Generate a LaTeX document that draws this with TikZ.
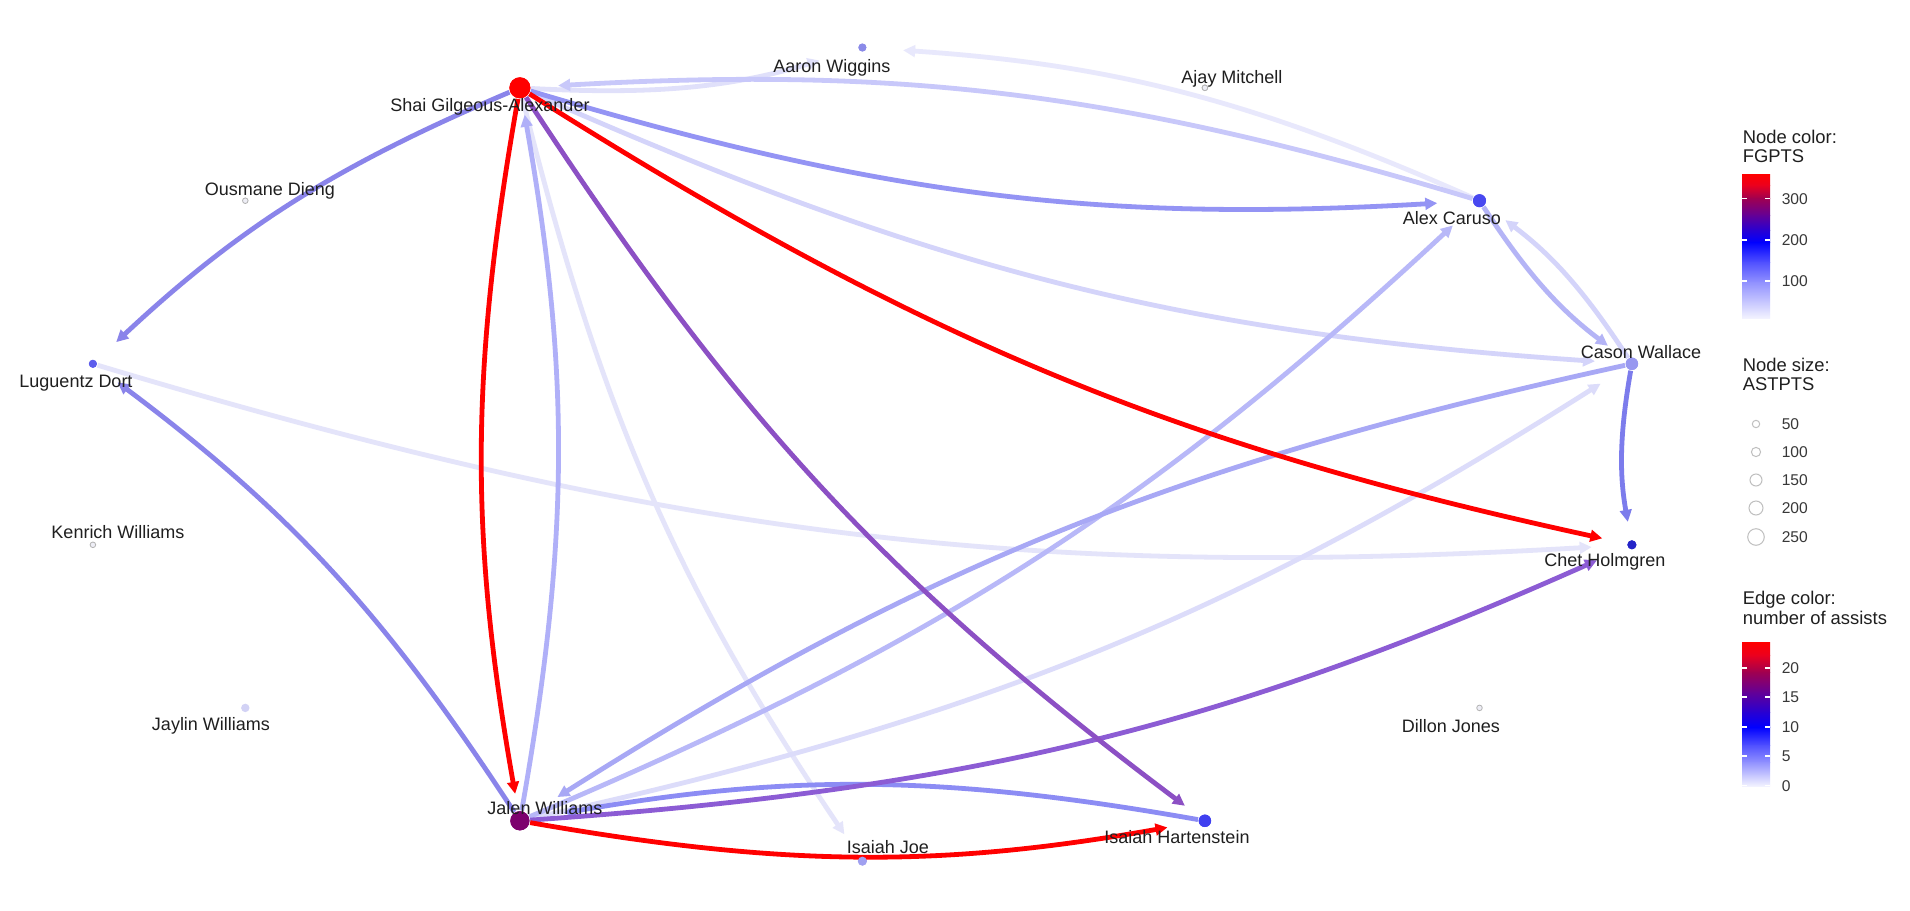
\documentclass[tikz,border=0pt]{standalone}
\usepackage{fontspec}
\setmainfont{Liberation Sans}
\usetikzlibrary{arrows.meta}
% node colours
\definecolor{nSGA}{RGB}{255,0,0}
\definecolor{nJW}{RGB}{125,0,110}
\definecolor{nAW}{RGB}{138,138,232}
\definecolor{nAC}{RGB}{72,72,240}
\definecolor{nCW}{RGB}{152,152,240}
\definecolor{nCH}{RGB}{36,36,200}
\definecolor{nIH}{RGB}{64,64,240}
\definecolor{nIJ}{RGB}{160,160,240}
\definecolor{nJYW}{RGB}{210,210,245}
\definecolor{nLD}{RGB}{92,92,236}
\definecolor{nTiny}{RGB}{238,238,246}
% edge colours
\definecolor{eRed}{RGB}{255,0,0}
\definecolor{eJS}{RGB}{176,176,248}
\definecolor{ePurp}{RGB}{140,80,196}
\definecolor{eDort}{RGB}{138,132,234}
\definecolor{eFaint}{RGB}{228,228,250}
\definecolor{eSA}{RGB}{148,148,244}
\definecolor{eAS}{RGB}{200,200,250}
\definecolor{eSAw}{RGB}{224,224,250}
\definecolor{eAAw}{RGB}{232,232,252}
\definecolor{eSC}{RGB}{212,212,250}
\definecolor{eAC}{RGB}{180,180,246}
\definecolor{eCA}{RGB}{212,212,250}
\definecolor{eCCh}{RGB}{124,124,236}
\definecolor{eJCh}{RGB}{140,92,212}
\definecolor{eJA}{RGB}{184,184,248}
\definecolor{eCJ}{RGB}{168,168,245}
\definecolor{eJC}{RGB}{220,220,250}
\definecolor{eHJ}{RGB}{140,140,244}
% gradient stops
\definecolor{gA}{RGB}{255,0,0}
\definecolor{gB}{RGB}{235,0,30}
\definecolor{gC}{RGB}{160,0,80}
\definecolor{gD}{RGB}{100,0,150}
\definecolor{gE}{RGB}{40,0,210}
\definecolor{gF}{RGB}{0,0,255}
\definecolor{gG}{RGB}{80,80,255}
\definecolor{gH}{RGB}{145,145,255}
\definecolor{gI}{RGB}{242,242,255}
\begin{document}
% 1 unit = 1 reference pixel = 0.25pt
\begin{tikzpicture}[x=0.25pt,y=0.25pt,
  dot/.style={circle,inner sep=0pt,draw=none},
  tiny/.style={circle,inner sep=0pt,minimum size=1.4pt,fill=nTiny,draw=black!30,line width=0.2pt},
  lab/.style={inner sep=0pt,text height=3.24pt,text depth=0pt,font=\fontsize{4.5}{5}\selectfont,text=black!88},
  lnk/.style={line width=1.2pt,-{Triangle[length=3pt,width=2.9pt]},bend right=10},
  ltitle/.style={anchor=west,inner sep=0pt,text height=3.3pt,text depth=0pt,font=\fontsize{4.6}{5}\selectfont,text=black!88},
  ltick/.style={anchor=west,inner sep=0pt,text height=2.8pt,text depth=0pt,font=\fontsize{3.9}{4}\selectfont,text=black!78},
  keyc/.style={circle,inner sep=0pt,draw=black!25,line width=0.25pt,fill=white},
  tickm/.style={white,line width=0.3pt},
]
\useasboundingbox (0,0) rectangle (1910,-911);
\fill[white] (0,0) rectangle (1910,-911);

% ---------------- nodes (circle layout) ----------------
\node[dot,fill=nAW,minimum size=2pt]     (aw)  at (862.4,-47.5) {};
\node[tiny]                               (am)  at (1204.9,-87.8) {};
\node[dot,fill=nAC,minimum size=3.25pt]  (ac)  at (1479.5,-200.7) {};
\node[dot,fill=nCW,minimum size=3.1pt]   (cw)  at (1631.9,-363.8) {};
\node[dot,fill=nCH,minimum size=2.25pt]  (ch)  at (1631.9,-544.8) {};
\node[tiny]                               (dj)  at (1479.5,-707.9) {};
\node[dot,fill=nIH,minimum size=3.1pt]   (ih)  at (1204.9,-820.8) {};
\node[dot,fill=nIJ,minimum size=2.25pt]  (ij)  at (862.4,-861.1) {};
\node[dot,fill=nJW,minimum size=4.8pt]   (jw)  at (519.9,-820.8) {};
\node[dot,fill=nJYW,minimum size=2.1pt]  (jyw) at (245.3,-707.9) {};
\node[tiny]                               (kw)  at (92.9,-544.8) {};
\node[dot,fill=nLD,minimum size=2pt]     (ld)  at (92.9,-363.8) {};
\node[tiny]                               (od)  at (245.3,-200.7) {};
\node[dot,fill=nSGA,minimum size=5.25pt] (sga) at (519.9,-87.8) {};

% ---------------- edges ----------------
\draw[lnk,color=eAAw,shorten >=9pt]     (ac)  to (aw);
\draw[lnk,color=eSAw,shorten >=10pt]    (sga) to (aw);
\draw[lnk,color=eFaint,shorten >=8.75pt](ld)  to (ch);
\draw[lnk,color=eFaint,shorten >=6.75pt](sga) to (ij);
\draw[lnk,color=eJC,shorten >=7.5pt]    (jw)  to (cw);
\draw[lnk,color=eSC,shorten >=7.5pt]    (sga) to (cw);
\draw[lnk,color=eCA,shorten >=6.25pt]   (cw)  to (ac);
\draw[lnk,color=eAS,shorten >=6.75pt]   (ac)  to (sga);
\draw[lnk,color=eJA,shorten >=7.25pt]   (jw)  to (ac);
\draw[lnk,color=eAC,shorten >=5.75pt]   (ac)  to (cw);
\draw[lnk,color=eJS,shorten >=4pt]      (jw)  to (sga);
\draw[lnk,color=eCJ,shorten >=8.5pt]    (cw)  to (jw);
\draw[lnk,color=eSA,shorten >=8.75pt]   (sga) to (ac);
\draw[lnk,color=eHJ,shorten >=8.5pt]    (ih)  to (jw);
\draw[lnk,color=eDort,shorten >=6.75pt] (sga) to (ld);
\draw[lnk,color=eDort,shorten >=6.5pt]  (jw)  to (ld);
\draw[lnk,color=eCCh,shorten >=4.5pt]   (cw)  to (ch);
\draw[lnk,color=eJCh,shorten >=8.25pt]  (jw)  to (ch);
\draw[lnk,color=ePurp,shorten >=4.5pt]  (sga) to (ih);
\draw[lnk,color=eRed,shorten >=6.25pt]  (sga) to (ch);
\draw[lnk,color=eRed,shorten >=7.75pt]  (jw)  to (ih);
\draw[lnk,color=eRed,shorten >=4.25pt]  (sga) to (jw);

% redraw dots on top of edges
\node[dot,fill=nAW,minimum size=2pt]     at (aw.center)  {};
\node[tiny]                               at (am.center)  {};
\node[dot,fill=nAC,minimum size=3.25pt]  at (ac.center)  {};
\node[dot,fill=nCW,minimum size=3.1pt]   at (cw.center)  {};
\node[dot,fill=nCH,minimum size=2.25pt]  at (ch.center)  {};
\node[dot,fill=nIH,minimum size=3.1pt]   at (ih.center)  {};
\node[dot,fill=nIJ,minimum size=2.25pt]  at (ij.center)  {};
\node[dot,fill=nJW,minimum size=4.8pt]   at (jw.center)  {};
\node[dot,fill=nLD,minimum size=2pt]     at (ld.center)  {};
\node[dot,fill=nSGA,minimum size=5.25pt] at (sga.center) {};

% ---------------- labels ----------------
\node[lab] (tsga) at (490,-105) {Shai Gilgeous-Alexander};
\node[lab] (taw)  at (832,-66)  {Aaron Wiggins};
\node[lab] (tam)  at (1232,-77) {Ajay Mitchell};
\node[lab] (tac)  at (1452,-218) {Alex Caruso};
\node[lab] (tcw)  at (1641,-352) {Cason Wallace};
\node[lab] (tch)  at (1605,-560) {Chet Holmgren};
\node[lab] (tdj)  at (1451,-726) {Dillon Jones};
\node[lab] (tih)  at (1177,-837) {Isaiah Hartenstein};
\node[lab] (tij)  at (888,-847)  {Isaiah Joe};
\node[lab] (tjw)  at (545,-808)  {Jalen Williams};
\node[lab] (tjyw) at (211,-724)  {Jaylin Williams};
\node[lab] (tkw)  at (118,-532)  {Kenrich Williams};
\node[lab] (tld)  at (76,-381)   {Luguentz Dort};
\node[lab] (tod)  at (270,-189)  {Ousmane Dieng};

% ---------------- legend: node colour ----------------
\node[ltitle] (lt1a) at (1742,-137) {Node color:};
\node[ltitle] (lt1b) at (1742,-156) {FGPTS};
\shade[top color=gA,bottom color=gB] (1742,-174) rectangle (1770,-185.5);
\shade[top color=gB,bottom color=gC] (1742,-185) rectangle (1770,-198.5);
\shade[top color=gC,bottom color=gD] (1742,-198) rectangle (1770,-215.5);
\shade[top color=gD,bottom color=gE] (1742,-215) rectangle (1770,-230.5);
\shade[top color=gE,bottom color=gF] (1742,-230) rectangle (1770,-242.5);
\shade[top color=gF,bottom color=gG] (1742,-242) rectangle (1770,-262.5);
\shade[top color=gG,bottom color=gH] (1742,-262) rectangle (1770,-282.5);
\shade[top color=gH,bottom color=gI] (1742,-282) rectangle (1770,-318);
\foreach \ty in {198.5,240,281}{
  \draw[tickm] (1742,-\ty) -- (1747,-\ty) (1765,-\ty) -- (1770,-\ty);
}
\node[ltick] (l300) at (1781,-198.5) {300};
\node[ltick] (l200) at (1781,-240)   {200};
\node[ltick] (l100) at (1781,-281)   {100};

% ---------------- legend: node size ----------------
\node[ltitle] (lt2a) at (1742,-365) {Node size:};
\node[ltitle] (lt2b) at (1742,-384) {ASTPTS};
\node[keyc,minimum size=1.85pt] (k50)  at (1756,-424) {};
\node[keyc,minimum size=2.3pt]  (k100) at (1756,-452) {};
\node[keyc,minimum size=3pt]    (k150) at (1756,-480) {};
\node[keyc,minimum size=3.5pt]  (k200) at (1756,-508) {};
\node[keyc,minimum size=4.15pt] (k250) at (1756,-537) {};
\node[ltick] at (1781,-424) {50};
\node[ltick] at (1781,-452) {100};
\node[ltick] at (1781,-480) {150};
\node[ltick] at (1781,-508) {200};
\node[ltick] at (1781,-537) {250};

% ---------------- legend: edge colour ----------------
\node[ltitle] (lt3a) at (1742,-598) {Edge color:};
\node[ltitle] (lt3b) at (1742,-618) {number of assists};
\shade[top color=gA,bottom color=gB] (1742,-642) rectangle (1770,-655.5);
\shade[top color=gB,bottom color=gC] (1742,-655) rectangle (1770,-672.5);
\shade[top color=gC,bottom color=gD] (1742,-672) rectangle (1770,-692.5);
\shade[top color=gD,bottom color=gE] (1742,-692) rectangle (1770,-712.5);
\shade[top color=gE,bottom color=gF] (1742,-712) rectangle (1770,-727.5);
\shade[top color=gF,bottom color=gG] (1742,-727) rectangle (1770,-745.5);
\shade[top color=gG,bottom color=gH] (1742,-745) rectangle (1770,-762.5);
\shade[top color=gH,bottom color=gI] (1742,-762) rectangle (1770,-786);
\foreach \ty in {668,697,727,756,785.4}{
  \draw[tickm] (1742,-\ty) -- (1747,-\ty) (1765,-\ty) -- (1770,-\ty);
}
\node[ltick] at (1781,-668) {20};
\node[ltick] at (1781,-697) {15};
\node[ltick] at (1781,-727) {10};
\node[ltick] at (1781,-756) {5};
\node[ltick] at (1781,-786) {0};
\end{tikzpicture}
\end{document}
